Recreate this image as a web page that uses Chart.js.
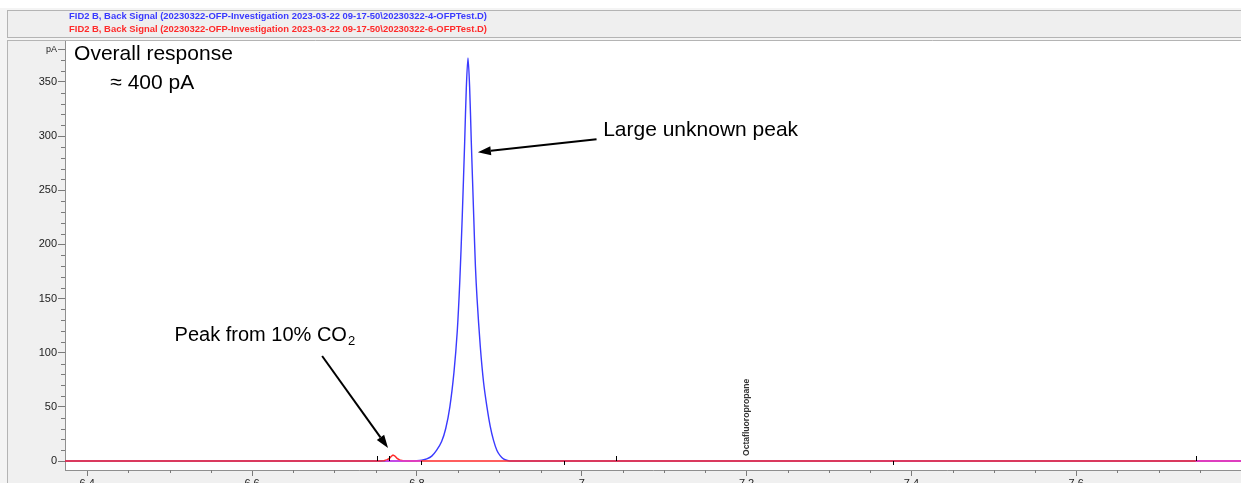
<!DOCTYPE html>
<html>
<head>
<meta charset="utf-8">
<title>FID2 B Back Signal</title>
<script src="https://cdn.jsdelivr.net/npm/chart.js@4.4.1/dist/chart.umd.min.js"></script>
<style>
  html, body { margin: 0; padding: 0; background: #fff; overflow: hidden; }
  #wrap { position: absolute; left: 0; top: 0; width: 1241px; height: 483px; }
</style>
</head>
<body>
<div id="wrap"><canvas id="fid" width="1241" height="483"></canvas></div>
<script>
// ── Run labels ──────────────────────────────────────────────────────────────
const RUN4_LABEL = 'FID2 B, Back Signal (20230322-OFP-Investigation 2023-03-22 09-17-50\\20230322-4-OFPTest.D)';
const RUN6_LABEL = 'FID2 B, Back Signal (20230322-OFP-Investigation 2023-03-22 09-17-50\\20230322-6-OFPTest.D)';

// ── Run 4 (blue): large unknown peak, retention time in min / signal in pA ──
const RUN4_TIME = [6.373, 6.795, 6.800, 6.806, 6.812, 6.818, 6.824, 6.830, 6.835, 6.840,
                   6.845, 6.849, 6.852, 6.855, 6.858, 6.860, 6.862, 6.864, 6.866, 6.869,
                   6.871, 6.873, 6.877, 6.881, 6.885, 6.889, 6.893, 6.897, 6.901, 6.905,
                   6.910, 6.915, 7.800];
const RUN4_PA   = [0, 0, 0.2, 0.8, 2, 4.5, 10, 18, 30, 50,
                   82, 120, 165, 225, 295, 345, 372, 345, 295, 225,
                   180, 150, 105, 72, 50, 32, 19, 10, 5, 2,
                   0.5, 0, 0];

// ── Run 6 (red): flat baseline with the small CO2 peak ──────────────────────
const RUN6_TIME = [6.373, 6.755, 6.760, 6.764, 6.767, 6.769, 6.771, 6.773, 6.776, 6.779,
                   6.783, 6.790, 7.800];
const RUN6_PA   = [0, 0, 0.3, 1.2, 2.6, 4.4, 5.5, 4.8, 2.5, 1.0,
                   0.3, 0, 0];

// ── Overlapping baseline stretches (both runs on top of each other) ─────────
const OVERLAP_TIME = [6.762, 6.805, 6.806, 7.745, 7.800];
const OVERLAP_PA   = [0, 0, null, 0, 0];

// ── Integration markers on the baseline ─────────────────────────────────────
const MARKERS_UP   = [6.7515, 6.766, 7.041, 7.745];
const MARKERS_DOWN = [6.805, 6.979, 7.378];

// ── Axis ticks ──────────────────────────────────────────────────────────────
const X_TICKS = [6.4, 6.6, 6.8, 7.0, 7.2, 7.4, 7.6];
const Y_TICKS = [0, 50, 100, 150, 200, 250, 300, 350, 380];
const Y_UNIT_TICK = 380;   // top tick carries the unit instead of a number

const toXY = (t, v) => t.map((x, i) => ({ x, y: v[i] }));

// ── Panels, frame and plot background ───────────────────────────────────────
const panelPlugin = {
  id: 'panels',
  beforeDraw(chart) {
    const { ctx, chartArea: a, width, height } = chart;
    ctx.save();
    ctx.fillStyle = '#f4f4f4';
    ctx.fillRect(0, 8, width, height - 8);
    // legend strip
    ctx.fillStyle = '#efefef';
    ctx.fillRect(7, 10, width - 7, 28);
    ctx.strokeStyle = '#b4b4b4';
    ctx.lineWidth = 1;
    ctx.strokeRect(7.5, 10.5, width, 27);
    // main panel
    ctx.fillStyle = '#f0f0f0';
    ctx.fillRect(7, 40, width - 7, height - 40);
    ctx.beginPath();
    ctx.moveTo(7.5, 40); ctx.lineTo(7.5, height);
    ctx.moveTo(7, 40.5); ctx.lineTo(width, 40.5);
    ctx.stroke();
    ctx.fillStyle = '#ffffff';
    ctx.fillRect(a.left, a.top, a.right - a.left, a.bottom - a.top);
    ctx.restore();
  },
  afterDraw(chart) {
    // run labels in their trace colours, run 4 on top
    const { ctx } = chart;
    const runs = [RUN4_LABEL, RUN6_LABEL]
      .map(l => chart.data.datasets.find(d => d.label === l));
    ctx.save();
    ctx.font = 'bold 9.5px "Liberation Sans", Arial, sans-serif';
    ctx.textAlign = 'center';
    ctx.textBaseline = 'middle';
    runs.forEach((d, i) => {
      ctx.fillStyle = d.borderColor;
      ctx.fillText(d.label, 278, 16 + i * 13, 418);
    });
    ctx.restore();
  },
};

// ── Minor ticks, baseline markers and compound label ───────────────────────
const ticksPlugin = {
  id: 'minorTicks',
  afterDraw(chart) {
    const { ctx, chartArea: a, scales: { x, y } } = chart;
    ctx.save();
    ctx.strokeStyle = '#7a7a7a';
    ctx.lineWidth = 1;
    ctx.beginPath();
    for (let k = 128; k <= 156; k++) {
      const v = k * 0.05;
      if (k % 4 === 0) continue;
      const px = Math.round(x.getPixelForValue(v)) + 0.5;
      if (px < a.left || px > a.right) continue;
      ctx.moveTo(px, a.bottom); ctx.lineTo(px, a.bottom + 3);
    }
    for (let v = 10; v < 380; v += 10) {
      if (v % 50 === 0) continue;
      const py = Math.round(y.getPixelForValue(v)) + 0.5;
      ctx.moveTo(a.left - 4, py); ctx.lineTo(a.left, py);
    }
    ctx.stroke();

    // integration start/stop markers
    const y0 = y.getPixelForValue(0);
    ctx.strokeStyle = '#000';
    ctx.beginPath();
    MARKERS_UP.forEach(t => {
      const px = Math.round(x.getPixelForValue(t)) + 0.5;
      ctx.moveTo(px, y0); ctx.lineTo(px, y0 - 5);
    });
    MARKERS_DOWN.forEach(t => {
      const px = Math.round(x.getPixelForValue(t)) + 0.5;
      ctx.moveTo(px, y0); ctx.lineTo(px, y0 + 4);
    });
    ctx.stroke();

    // compound name at its expected retention time
    ctx.translate(x.getPixelForValue(7.2), y.getPixelForValue(4.6));
    ctx.rotate(-Math.PI / 2);
    ctx.fillStyle = '#333';
    ctx.font = 'bold 8.6px "Liberation Sans", Arial, sans-serif';
    ctx.textAlign = 'left';
    ctx.textBaseline = 'middle';
    ctx.fillText('Octafluoropropane', 0, 0);
    ctx.restore();
  },
};

// ── Callout text and arrows ─────────────────────────────────────────────────
function arrow(ctx, x1, y1, x2, y2) {
  const ang = Math.atan2(y2 - y1, x2 - x1);
  const len = 13, half = 4.5;
  const bx = x2 - len * Math.cos(ang), by = y2 - len * Math.sin(ang);
  ctx.beginPath();
  ctx.moveTo(x1, y1); ctx.lineTo(bx, by);
  ctx.stroke();
  ctx.beginPath();
  ctx.moveTo(x2, y2);
  ctx.lineTo(bx + half * Math.sin(ang), by - half * Math.cos(ang));
  ctx.lineTo(bx - half * Math.sin(ang), by + half * Math.cos(ang));
  ctx.closePath();
  ctx.fill();
}

const calloutPlugin = {
  id: 'callouts',
  afterDraw(chart) {
    const { ctx, scales: { x, y } } = chart;
    const px = t => x.getPixelForValue(t), py = v => y.getPixelForValue(v);
    const family = '"Liberation Sans", Arial, sans-serif';
    ctx.save();
    ctx.fillStyle = '#000';
    ctx.strokeStyle = '#000';
    ctx.lineWidth = 2;
    ctx.font = '21px ' + family;
    ctx.textAlign = 'left';
    ctx.textBaseline = 'middle';

    ctx.fillText('Overall response', px(6.384), py(375.5));
    ctx.fillText('\u2248 400 pA', px(6.428), py(348.7));

    ctx.fillText('Large unknown peak', px(7.026), py(305.3));
    arrow(ctx, px(7.018), py(297), px(6.874), py(285));

    const lx = px(6.506), ly = py(116.2);
    const main = 'Peak from 10% CO';
    ctx.font = '20px ' + family;
    ctx.fillText(main, lx, ly);
    const w = ctx.measureText(main).width;
    ctx.font = '13px ' + family;
    ctx.fillText('2', lx + w + 1, ly + 6);
    arrow(ctx, px(6.685), py(96.9), px(6.765), py(12));
    ctx.restore();
  },
};

const axisFont = { family: '"Liberation Sans", Arial, sans-serif', size: 11 };

new Chart(document.getElementById('fid'), {
  type: 'line',
  data: {
    datasets: [
      {
        label: '',
        data: toXY(OVERLAP_TIME, OVERLAP_PA),
        borderColor: '#e040e0',
        borderWidth: 1.5,
        spanGaps: false,
      },
      {
        label: RUN6_LABEL,
        data: toXY(RUN6_TIME, RUN6_PA),
        borderColor: '#ff2a2a',
        borderWidth: 1.5,
      },
      {
        label: RUN4_LABEL,
        data: toXY(RUN4_TIME, RUN4_PA),
        borderColor: '#3a3aff',
        borderWidth: 1.4,
        tension: 0.3,
      },
    ],
  },
  options: {
    responsive: false,
    animation: false,
    layout: { padding: { top: 41, left: 0, right: 0, bottom: 0 } },
    elements: { point: { radius: 0 }, line: { fill: false } },
    plugins: {
      legend: { display: false },
      tooltip: { enabled: false },
    },
    scales: {
      x: {
        type: 'linear',
        min: 6.373,
        max: 7.8,
        afterBuildTicks: s => { s.ticks = X_TICKS.map(value => ({ value })); },
        afterFit: s => { s.height = 13; },
        border: { color: '#8f8f8f', width: 1 },
        grid: { drawOnChartArea: false, tickLength: 6, tickColor: '#7a7a7a' },
        ticks: {
          color: '#222',
          font: axisFont,
          padding: 1,
          autoSkip: false,
          maxRotation: 0,
          callback: v => String(Number(v.toFixed(1))),
        },
      },
      y: {
        type: 'linear',
        min: -8.3,
        max: 387.7,
        afterBuildTicks: s => { s.ticks = Y_TICKS.map(value => ({ value })); },
        afterFit: s => { s.width = 65; },
        border: { color: '#8f8f8f', width: 1 },
        grid: { drawOnChartArea: false, tickLength: 7, tickColor: '#7a7a7a' },
        ticks: {
          color: '#222',
          padding: 1,
          font: c => (c.tick && c.tick.value === Y_UNIT_TICK) ? { ...axisFont, size: 9 } : axisFont,
          callback: v => v === Y_UNIT_TICK ? 'pA' : v,
        },
      },
    },
  },
  plugins: [panelPlugin, ticksPlugin, calloutPlugin],
});
</script>
</body>
</html>
